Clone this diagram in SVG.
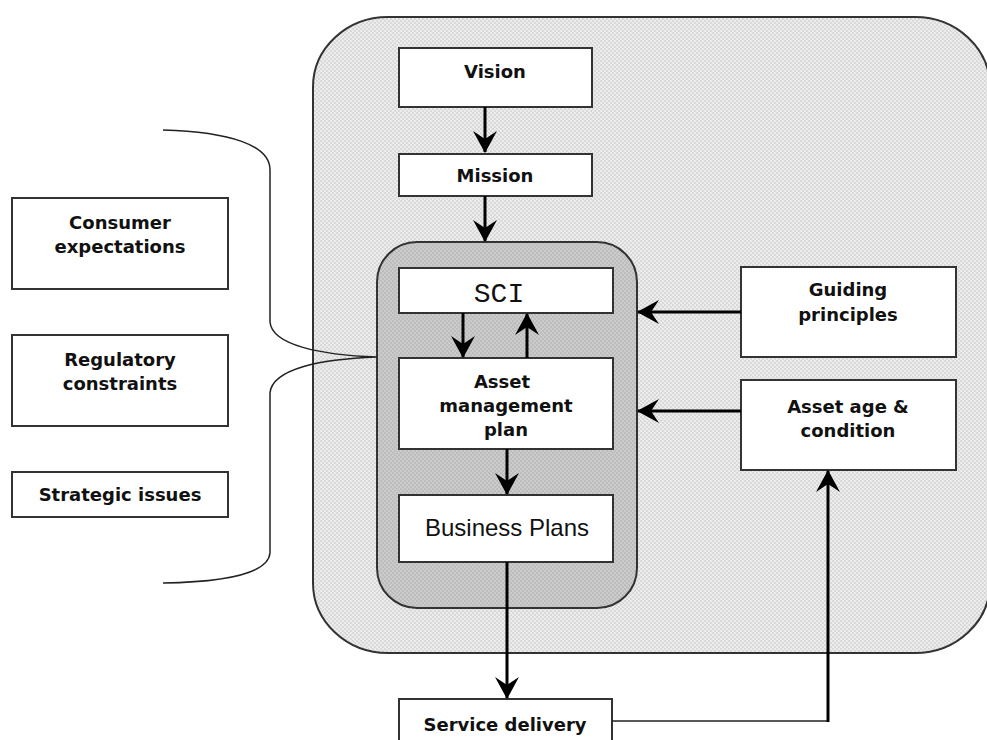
<svg xmlns="http://www.w3.org/2000/svg" width="987" height="740" viewBox="0 0 987 740">
<defs>
<pattern id="dots" width="4" height="4" patternUnits="userSpaceOnUse">
<rect width="4" height="4" fill="#ececec"/>
<rect x="0" y="0" width="2" height="2" fill="#d9d9d9"/>
<rect x="2" y="2" width="2" height="2" fill="#d9d9d9"/>
</pattern>
<pattern id="dots2" width="4" height="4" patternUnits="userSpaceOnUse">
<rect width="4" height="4" fill="#cbcbcb"/>
<rect x="0" y="0" width="2" height="2" fill="#bdbdbd"/>
<rect x="2" y="2" width="2" height="2" fill="#bdbdbd"/>
</pattern>
<marker id="ah" viewBox="0 0 22 24" refX="21" refY="12" markerWidth="22" markerHeight="24" markerUnits="userSpaceOnUse" orient="auto">
<path d="M0,0 L22,12 L0,24 L8,12 Z" fill="#000"/>
</marker>
</defs>
<style>
.box{fill:#fff;stroke:#333;stroke-width:2}
.t{font-family:"DejaVu Sans",Verdana,sans-serif;font-weight:bold;font-size:18px;fill:#111;text-anchor:middle}
.c{fill:none;stroke:#000;stroke-width:3}
.thin{fill:none;stroke:#222;stroke-width:1.5}
</style>
<rect x="0" y="0" width="987" height="740" fill="#fff"/>
<g id="outer"><rect x="313" y="17" width="677" height="636" rx="75" ry="70" fill="url(#dots)" stroke="#333" stroke-width="2"/></g>
<g id="inner"><rect x="377" y="242" width="260" height="366" rx="40" ry="40" fill="url(#dots2)" stroke="#333" stroke-width="2"/></g>
<g id="brace"><path class="thin" d="M163,130 C230,132 270,145 270,170 L270,322 C272,345 320,355 377,357 C320,359 272,369 270,393 L270,553 C268,575 220,582 163,583"/></g>
<g id="vision"><rect class="box" x="399" y="48" width="193" height="59"/><text class="t" x="495" y="78">Vision</text></g>
<g id="mission"><rect class="box" x="399" y="154" width="193" height="42"/><text class="t" x="495" y="182">Mission</text></g>
<g id="sci"><rect class="box" x="399" y="268" width="214" height="45"/><text x="499" y="302" font-family="Liberation Mono, monospace" font-size="28" text-anchor="middle" fill="#111">SCI</text></g>
<g id="amp"><rect class="box" x="399" y="358" width="214" height="91"/><text class="t" x="502" y="388">Asset</text><text class="t" x="506" y="412">management</text><text class="t" x="506" y="436">plan</text></g>
<g id="bp"><rect class="box" x="399" y="495" width="214" height="67"/><text x="507" y="536" font-family="Liberation Sans, Arial, sans-serif" font-size="24" text-anchor="middle" fill="#111">Business Plans</text></g>
<g id="sd"><rect class="box" x="399" y="699" width="213" height="50"/><text class="t" x="505" y="731">Service delivery</text></g>
<g id="gp"><rect class="box" x="741" y="267" width="215" height="90"/><text class="t" x="848" y="296">Guiding</text><text class="t" x="848" y="321">principles</text></g>
<g id="aac"><rect class="box" x="741" y="380" width="215" height="90"/><text class="t" x="848" y="413">Asset age &amp;</text><text class="t" x="848" y="437">condition</text></g>
<g id="ce"><rect class="box" x="12" y="198" width="216" height="91"/><text class="t" x="120" y="229">Consumer</text><text class="t" x="120" y="253">expectations</text></g>
<g id="rc"><rect class="box" x="12" y="335" width="216" height="91"/><text class="t" x="120" y="366">Regulatory</text><text class="t" x="120" y="390">constraints</text></g>
<g id="si"><rect class="box" x="12" y="472" width="216" height="45"/><text class="t" x="120" y="501">Strategic issues</text></g>
<g id="connectors">
<path class="c" d="M485,107 L485,152" marker-end="url(#ah)"/>
<path class="c" d="M485,196 L485,241" marker-end="url(#ah)"/>
<path class="c" d="M463,313 L463,357" marker-end="url(#ah)"/>
<path class="c" d="M527,358 L527,314" marker-end="url(#ah)"/>
<path class="c" d="M507,449 L507,494" marker-end="url(#ah)"/>
<path class="c" d="M507,562 L507,698" marker-end="url(#ah)"/>
<path class="c" d="M741,312 L638,312" marker-end="url(#ah)"/>
<path class="c" d="M741,411 L638,411" marker-end="url(#ah)"/>
<path class="thin" d="M612,721 L828,721"/>
<path class="c" d="M828,722 L828,471" marker-end="url(#ah)"/>
</g>
</svg>
